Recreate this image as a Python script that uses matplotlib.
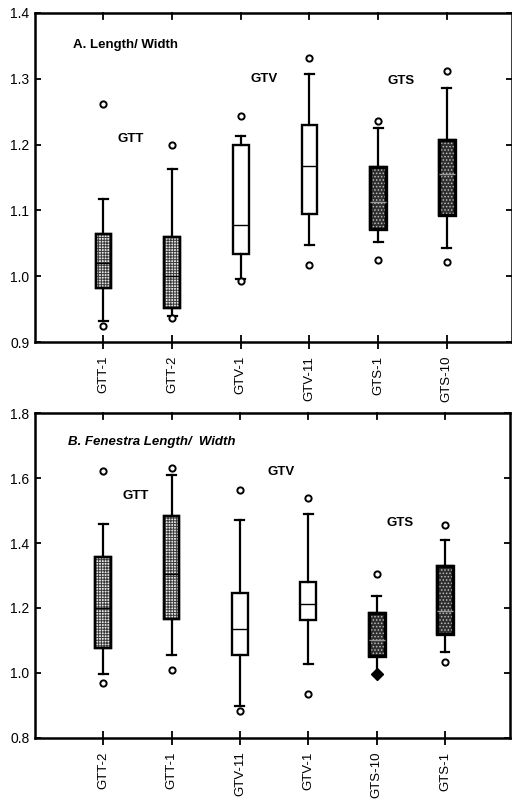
import matplotlib
matplotlib.use("Agg")
import matplotlib.pyplot as plt
from matplotlib.patches import PathPatch
import numpy as np

plt.rcParams['font.family'] = ['Liberation Sans', 'DejaVu Sans']
plt.rcParams['hatch.linewidth'] = 0.7

# panel A: Length / Width
a_labels = ["GTT-1", "GTT-2", "GTV-1", "GTV-11", "GTS-1", "GTS-10"]
a_q1 = [0.982, 0.951, 1.034, 1.095, 1.071, 1.093]
a_med = [1.020, 1.000, 1.078, 1.167, 1.112, 1.155]
a_q3 = [1.064, 1.060, 1.200, 1.230, 1.166, 1.207]
a_lo = [0.932, 0.939, 0.996, 1.048, 1.052, 1.043]
a_hi = [1.117, 1.163, 1.213, 1.307, 1.225, 1.286]
a_out = [[1.262, 0.925], [1.200, 0.936], [1.244, 0.992],
         [1.331, 1.017], [1.236, 1.024], [1.311, 1.021]]

# panel B: Fenestra Length / Width
b_labels = ["GTT-2", "GTT-1", "GTV-11", "GTV-1", "GTS-10", "GTS-1"]
b_q1 = [1.077, 1.165, 1.055, 1.163, 1.052, 1.119]
b_med = [1.201, 1.305, 1.134, 1.212, 1.100, 1.191]
b_q3 = [1.358, 1.482, 1.246, 1.279, 1.186, 1.328]
b_lo = [0.997, 1.055, 0.897, 1.026, 0.995, 1.065]
b_hi = [1.459, 1.609, 1.472, 1.490, 1.237, 1.411]
b_out = [[1.621, 0.969], [1.630, 1.010], [1.563, 0.881],
         [1.540, 0.935], [1.305], [1.457, 1.033]]
b_diamond_idx = 4  # GTS-10 lower whisker ends in a filled diamond

styles = {
    'GTT': dict(face='#e8e8e8', hatch='++++++', hcol='#3a3a3a', lw=1.7, med='black'),
    'GTV': dict(face='white', hatch=None, hcol=None, lw=1.7, med='black'),
    'GTS': dict(face='#2e2e2e', hatch='.....', hcol='#bdbdbd', lw=2.4, med='#9a9a9a'),
}


def draw_panel(ax, labels, q1, med, q3, lo, hi, out, ylim, yticks):
    stats = []
    for i in range(len(labels)):
        stats.append(dict(label=labels[i], q1=q1[i], med=med[i], q3=q3[i],
                          whislo=lo[i], whishi=hi[i], fliers=out[i]))
    pos = np.arange(1, len(labels) + 1)
    bp = ax.bxp(stats, positions=pos, widths=0.23, capwidths=0.13,
                patch_artist=True, showfliers=True,
                boxprops=dict(linewidth=1.7, edgecolor='black'),
                medianprops=dict(color='black', linewidth=1.0),
                whiskerprops=dict(color='black', linewidth=1.6),
                capprops=dict(color='black', linewidth=1.6),
                flierprops=dict(marker='o', markersize=4.5, markerfacecolor='white',
                                markeredgecolor='black', markeredgewidth=1.4))
    for lab, box, m in zip(labels, bp['boxes'], bp['medians']):
        st = styles[lab[:3]]
        box.set_facecolor(st['face'])
        box.set_zorder(2)
        m.set_color(st['med'])
        m.set_zorder(3.5)
        if st['hatch']:
            ov = PathPatch(box.get_path(), facecolor='none', edgecolor=st['hcol'],
                           hatch=st['hatch'], linewidth=0, zorder=2.5)
            ax.add_patch(ov)
            ol = PathPatch(box.get_path(), facecolor='none', edgecolor='black',
                           linewidth=st['lw'], zorder=3)
            ax.add_patch(ol)

    ax.set_xlim(0.0, 6.95)
    ax.set_ylim(*ylim)
    ax.set_yticks(yticks)
    ax.set_yticklabels(['%.1f' % t for t in yticks], fontsize=10)
    ax.set_xticks(pos)
    ax.set_xticklabels(labels, rotation=90, fontsize=9.5)
    ax.tick_params(axis='y', direction='in', length=4, width=1.3, left=True, right=True,
                   pad=4)
    ax.tick_params(axis='x', direction='inout', length=10, width=1.3, top=False, pad=5)
    for p in pos:
        ax.plot([p, p], [ylim[1], ylim[1] - (ylim[1] - ylim[0]) * 0.018], color='black',
                lw=1.3, clip_on=False)
    for s in ax.spines.values():
        s.set_linewidth(1.8)
    return bp


fig = plt.figure(figsize=(5.12, 8.01), dpi=100)
ax1 = fig.add_axes([0.068, 0.573, 0.932, 0.411])
ax2 = fig.add_axes([0.068, 0.079, 0.928, 0.405])

draw_panel(ax1, a_labels, a_q1, a_med, a_q3, a_lo, a_hi, a_out,
           (0.9, 1.4), [0.9, 1.0, 1.1, 1.2, 1.3, 1.4])
bp2 = draw_panel(ax2, b_labels, b_q1, b_med, b_q3, b_lo, b_hi, b_out,
                 (0.8, 1.8), [0.8, 1.0, 1.2, 1.4, 1.6, 1.8])

# GTS-10 lower end: no cap, filled diamond instead
bp2['caps'][2 * b_diamond_idx].set_visible(False)
ax2.plot([b_diamond_idx + 1], [b_lo[b_diamond_idx]], marker='D', markersize=6,
         color='black', zorder=5)

ax1.text(0.56, 1.351, 'A. Length/ Width', fontsize=9.5, fontweight='bold', va='center')
ax1.text(1.2, 1.208, 'GTT', fontsize=9.5, fontweight='bold', va='center')
ax1.text(3.14, 1.30, 'GTV', fontsize=9.5, fontweight='bold', va='center')
ax1.text(5.14, 1.297, 'GTS', fontsize=9.5, fontweight='bold', va='center')

ax2.text(0.49, 1.712, 'B. Fenestra Length/  Width', fontsize=9.5, fontweight='bold',
         fontstyle='italic', va='center')
ax2.text(1.28, 1.544, 'GTT', fontsize=9.5, fontweight='bold', va='center')
ax2.text(3.40, 1.619, 'GTV', fontsize=9.5, fontweight='bold', va='center')
ax2.text(5.14, 1.463, 'GTS', fontsize=9.5, fontweight='bold', va='center')

fig.savefig('out.png', dpi=100)
